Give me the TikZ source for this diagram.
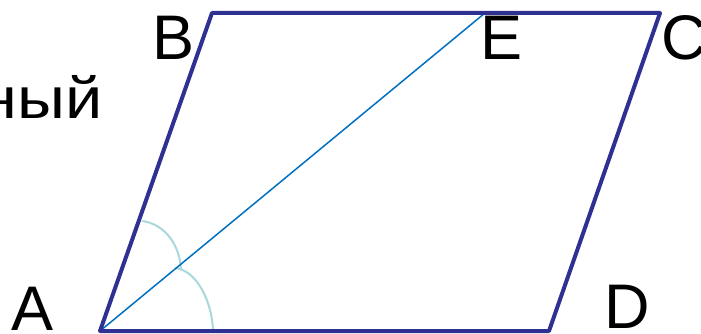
\documentclass[tikz,border=0pt]{standalone}
\usepackage{fontspec}
\setmainfont{Liberation Sans}
\definecolor{edgeblue}{HTML}{2E3192}
\definecolor{bisblue}{HTML}{0070C0}
\definecolor{arcblue}{HTML}{A8D8DC}
\begin{document}
\begin{tikzpicture}[x=1pt,y=-1pt,
  side/.style={draw=edgeblue,line width=4pt,line join=round},
  bis/.style={draw=bisblue,line width=1.5pt},
  construct/.style={draw=arcblue,line width=2pt},
  vlabel/.style={inner sep=0pt,font=\fontsize{63}{63}\selectfont},
  wlabel/.style={inner sep=0pt,font=\fontsize{58}{58}\selectfont}]
\useasboundingbox (0,0) rectangle (701,334);
\coordinate (A) at (100,331);
\coordinate (B) at (212,13);
\coordinate (C) at (660,13);
\coordinate (D) at (549,331);
\coordinate (E) at (485,13);
\draw[construct] (142,221) .. controls (165,224) and (180,245) .. (181,270);
\draw[construct] (175,268) .. controls (196,270) and (212,300) .. (213,331);
\draw[bis] (A) -- (E);
\draw[side] (A) -- (B) -- (C) -- (D) -- cycle;
\node[vlabel,anchor=base] (lB) at (174,60) {B};
\node[vlabel,anchor=base] (lE) at (502,60) {E};
\node[vlabel,anchor=base west] (lC) at (661,60) {C};
\node[vlabel,anchor=base] (lA) at (33,330) {A};
\node[vlabel,anchor=base] (lD) at (627,328) {D};
\node[wlabel,anchor=base east] (w) at (103,118) {\scalebox{1.15}[1]{ный}};
\end{tikzpicture}
\end{document}
